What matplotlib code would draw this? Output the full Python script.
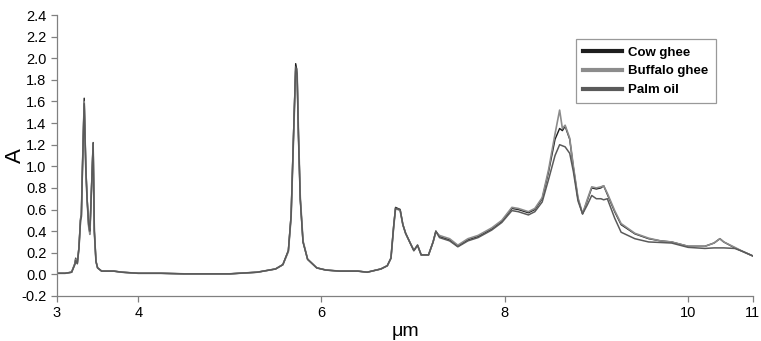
import numpy as np
import matplotlib
matplotlib.use("Agg")
import matplotlib.pyplot as plt

# wavelength grid (um) shared by all three spectra
wl = [3.00, 3.10, 3.18, 3.22, 3.23, 3.25, 3.27, 3.29, 3.30, 3.31, 3.335, 3.355,
      3.37, 3.39, 3.405, 3.42, 3.445, 3.46, 3.48, 3.50, 3.55, 3.70, 3.80, 4.00,
      4.25, 4.50, 5.00, 5.30, 5.50, 5.58, 5.64, 5.67, 5.70, 5.72, 5.735, 5.75,
      5.77, 5.80, 5.85, 5.95, 6.05, 6.20, 6.40, 6.50, 6.65, 6.72, 6.76, 6.79,
      6.81, 6.86, 6.89, 6.92, 6.97, 7.01, 7.05, 7.09, 7.17, 7.22, 7.25, 7.29,
      7.40, 7.49, 7.60, 7.71, 7.86, 7.97, 8.08, 8.15, 8.26, 8.33, 8.41, 8.48,
      8.55, 8.60, 8.63, 8.66, 8.71, 8.75, 8.80, 8.85, 8.90, 8.95, 9.00, 9.05,
      9.08, 9.12, 9.20, 9.27, 9.42, 9.57, 9.70, 9.82, 10.00, 10.26, 10.40, 10.49,
      10.55, 10.72, 10.85, 11.00]

cow = [0.01, 0.01, 0.02, 0.10, 0.15, 0.10, 0.25, 0.52, 0.55, 0.90, 1.63, 1.00,
       0.72, 0.45, 0.38, 0.70, 1.22, 0.40, 0.12, 0.06, 0.03, 0.03, 0.02, 0.01,
       0.01, 0.005, 0.005, 0.02, 0.05, 0.09, 0.22, 0.55, 1.40, 1.95, 1.88, 1.30,
       0.70, 0.30, 0.14, 0.06, 0.04, 0.03, 0.03, 0.02, 0.05, 0.08, 0.15, 0.45,
       0.62, 0.60, 0.46, 0.38, 0.29, 0.22, 0.27, 0.18, 0.18, 0.30, 0.40, 0.35,
       0.32, 0.26, 0.32, 0.35, 0.42, 0.49, 0.61, 0.60, 0.57, 0.60, 0.70, 0.95,
       1.25, 1.35, 1.33, 1.37, 1.25, 0.99, 0.70, 0.56, 0.68, 0.80, 0.79, 0.80,
       0.82, 0.74, 0.58, 0.46, 0.375, 0.33, 0.31, 0.30, 0.26, 0.26, 0.29, 0.33,
       0.30, 0.245, 0.21, 0.17]

buffalo = [0.01, 0.01, 0.02, 0.10, 0.14, 0.10, 0.24, 0.50, 0.54, 0.88, 1.60, 0.98,
           0.70, 0.44, 0.37, 0.68, 1.20, 0.39, 0.12, 0.06, 0.03, 0.03, 0.02, 0.01,
           0.01, 0.005, 0.005, 0.02, 0.05, 0.09, 0.21, 0.53, 1.36, 1.88, 1.90, 1.32,
           0.72, 0.31, 0.14, 0.06, 0.04, 0.03, 0.03, 0.02, 0.05, 0.08, 0.15, 0.44,
           0.61, 0.59, 0.46, 0.38, 0.29, 0.22, 0.27, 0.18, 0.18, 0.30, 0.39, 0.36,
           0.33, 0.27, 0.33, 0.36, 0.43, 0.50, 0.62, 0.61, 0.58, 0.61, 0.71, 0.97,
           1.30, 1.52, 1.35, 1.38, 1.26, 1.00, 0.71, 0.56, 0.69, 0.81, 0.80, 0.81,
           0.82, 0.75, 0.59, 0.47, 0.38, 0.335, 0.31, 0.30, 0.26, 0.26, 0.29, 0.33,
           0.30, 0.25, 0.21, 0.17]

palm = [0.01, 0.01, 0.02, 0.09, 0.13, 0.10, 0.24, 0.50, 0.53, 0.86, 1.58, 0.97,
        0.70, 0.46, 0.40, 0.69, 1.21, 0.40, 0.12, 0.06, 0.03, 0.03, 0.02, 0.01,
        0.01, 0.005, 0.005, 0.02, 0.05, 0.09, 0.22, 0.54, 1.38, 1.92, 1.86, 1.28,
        0.69, 0.30, 0.14, 0.06, 0.04, 0.03, 0.03, 0.02, 0.05, 0.08, 0.15, 0.45,
        0.61, 0.60, 0.46, 0.38, 0.29, 0.22, 0.27, 0.18, 0.18, 0.30, 0.40, 0.34,
        0.31, 0.255, 0.31, 0.34, 0.41, 0.48, 0.59, 0.58, 0.55, 0.58, 0.67, 0.88,
        1.10, 1.20, 1.19, 1.18, 1.12, 0.95, 0.68, 0.56, 0.64, 0.73, 0.70, 0.70,
        0.69, 0.70, 0.52, 0.39, 0.33, 0.30, 0.295, 0.29, 0.25, 0.24, 0.245, 0.245,
        0.245, 0.24, 0.21, 0.17]

x_ticks = [3, 4, 6, 8, 10, 11]
y_ticks = np.round(np.arange(-0.2, 2.41, 0.2), 1)

# the printed axis is not linear in um: piecewise spacing between the ticks
tick_pos = [0, 81.4, 265.0, 448.7, 632.7, 697.7]


def fwd(x):
    x = np.asarray(x, dtype=float)
    return np.interp(x, x_ticks, tick_pos)


def inv(p):
    p = np.asarray(p, dtype=float)
    return np.interp(p, tick_pos, x_ticks)


plt.rcParams["font.family"] = ["Liberation Sans", "DejaVu Sans"]

fig = plt.figure(figsize=(7.61, 3.41), dpi=100)
ax = fig.add_axes([0.0749, 0.132, 0.9145, 0.824])

ax.plot(wl, cow, color="#1e1e1e", lw=1.0, label="Cow ghee")
ax.plot(wl, buffalo, color="#8c8c8c", lw=1.2, label="Buffalo ghee")
ax.plot(wl, palm, color="#5a5a5a", lw=1.1, label="Palm oil")

ax.set_xscale("function", functions=(fwd, inv))
ax.set_xlim(3, 11)
ax.set_ylim(-0.2, 2.4)
ax.set_xticks(x_ticks)
ax.set_xticklabels([str(t) for t in x_ticks])
ax.set_yticks(y_ticks)
ax.set_yticklabels([f"{t:.1f}" for t in y_ticks])
ax.minorticks_off()

for s in ["top", "right"]:
    ax.spines[s].set_visible(False)
for s in ["left", "bottom"]:
    ax.spines[s].set_color("#808080")
    ax.spines[s].set_linewidth(0.9)
ax.tick_params(direction="out", length=4, width=0.9, color="#808080",
               labelsize=10.5, labelcolor="black")

ax.set_xlabel("\u03bcm", fontsize=14, labelpad=2)
ax.set_ylabel("A", fontsize=16)
ax.yaxis.set_label_coords(-0.044, 0.5)

leg = ax.legend(loc="upper right", bbox_to_anchor=(0.956, 0.938),
                prop={"weight": "bold", "size": 9.5}, frameon=True,
                fancybox=False, edgecolor="#808080", handlelength=2.9,
                handletextpad=0.5, borderpad=0.55, labelspacing=0.5)
leg.get_frame().set_linewidth(0.9)
for line in leg.get_lines():
    line.set_linewidth(3.0)

fig.savefig("out.png", dpi=100)
